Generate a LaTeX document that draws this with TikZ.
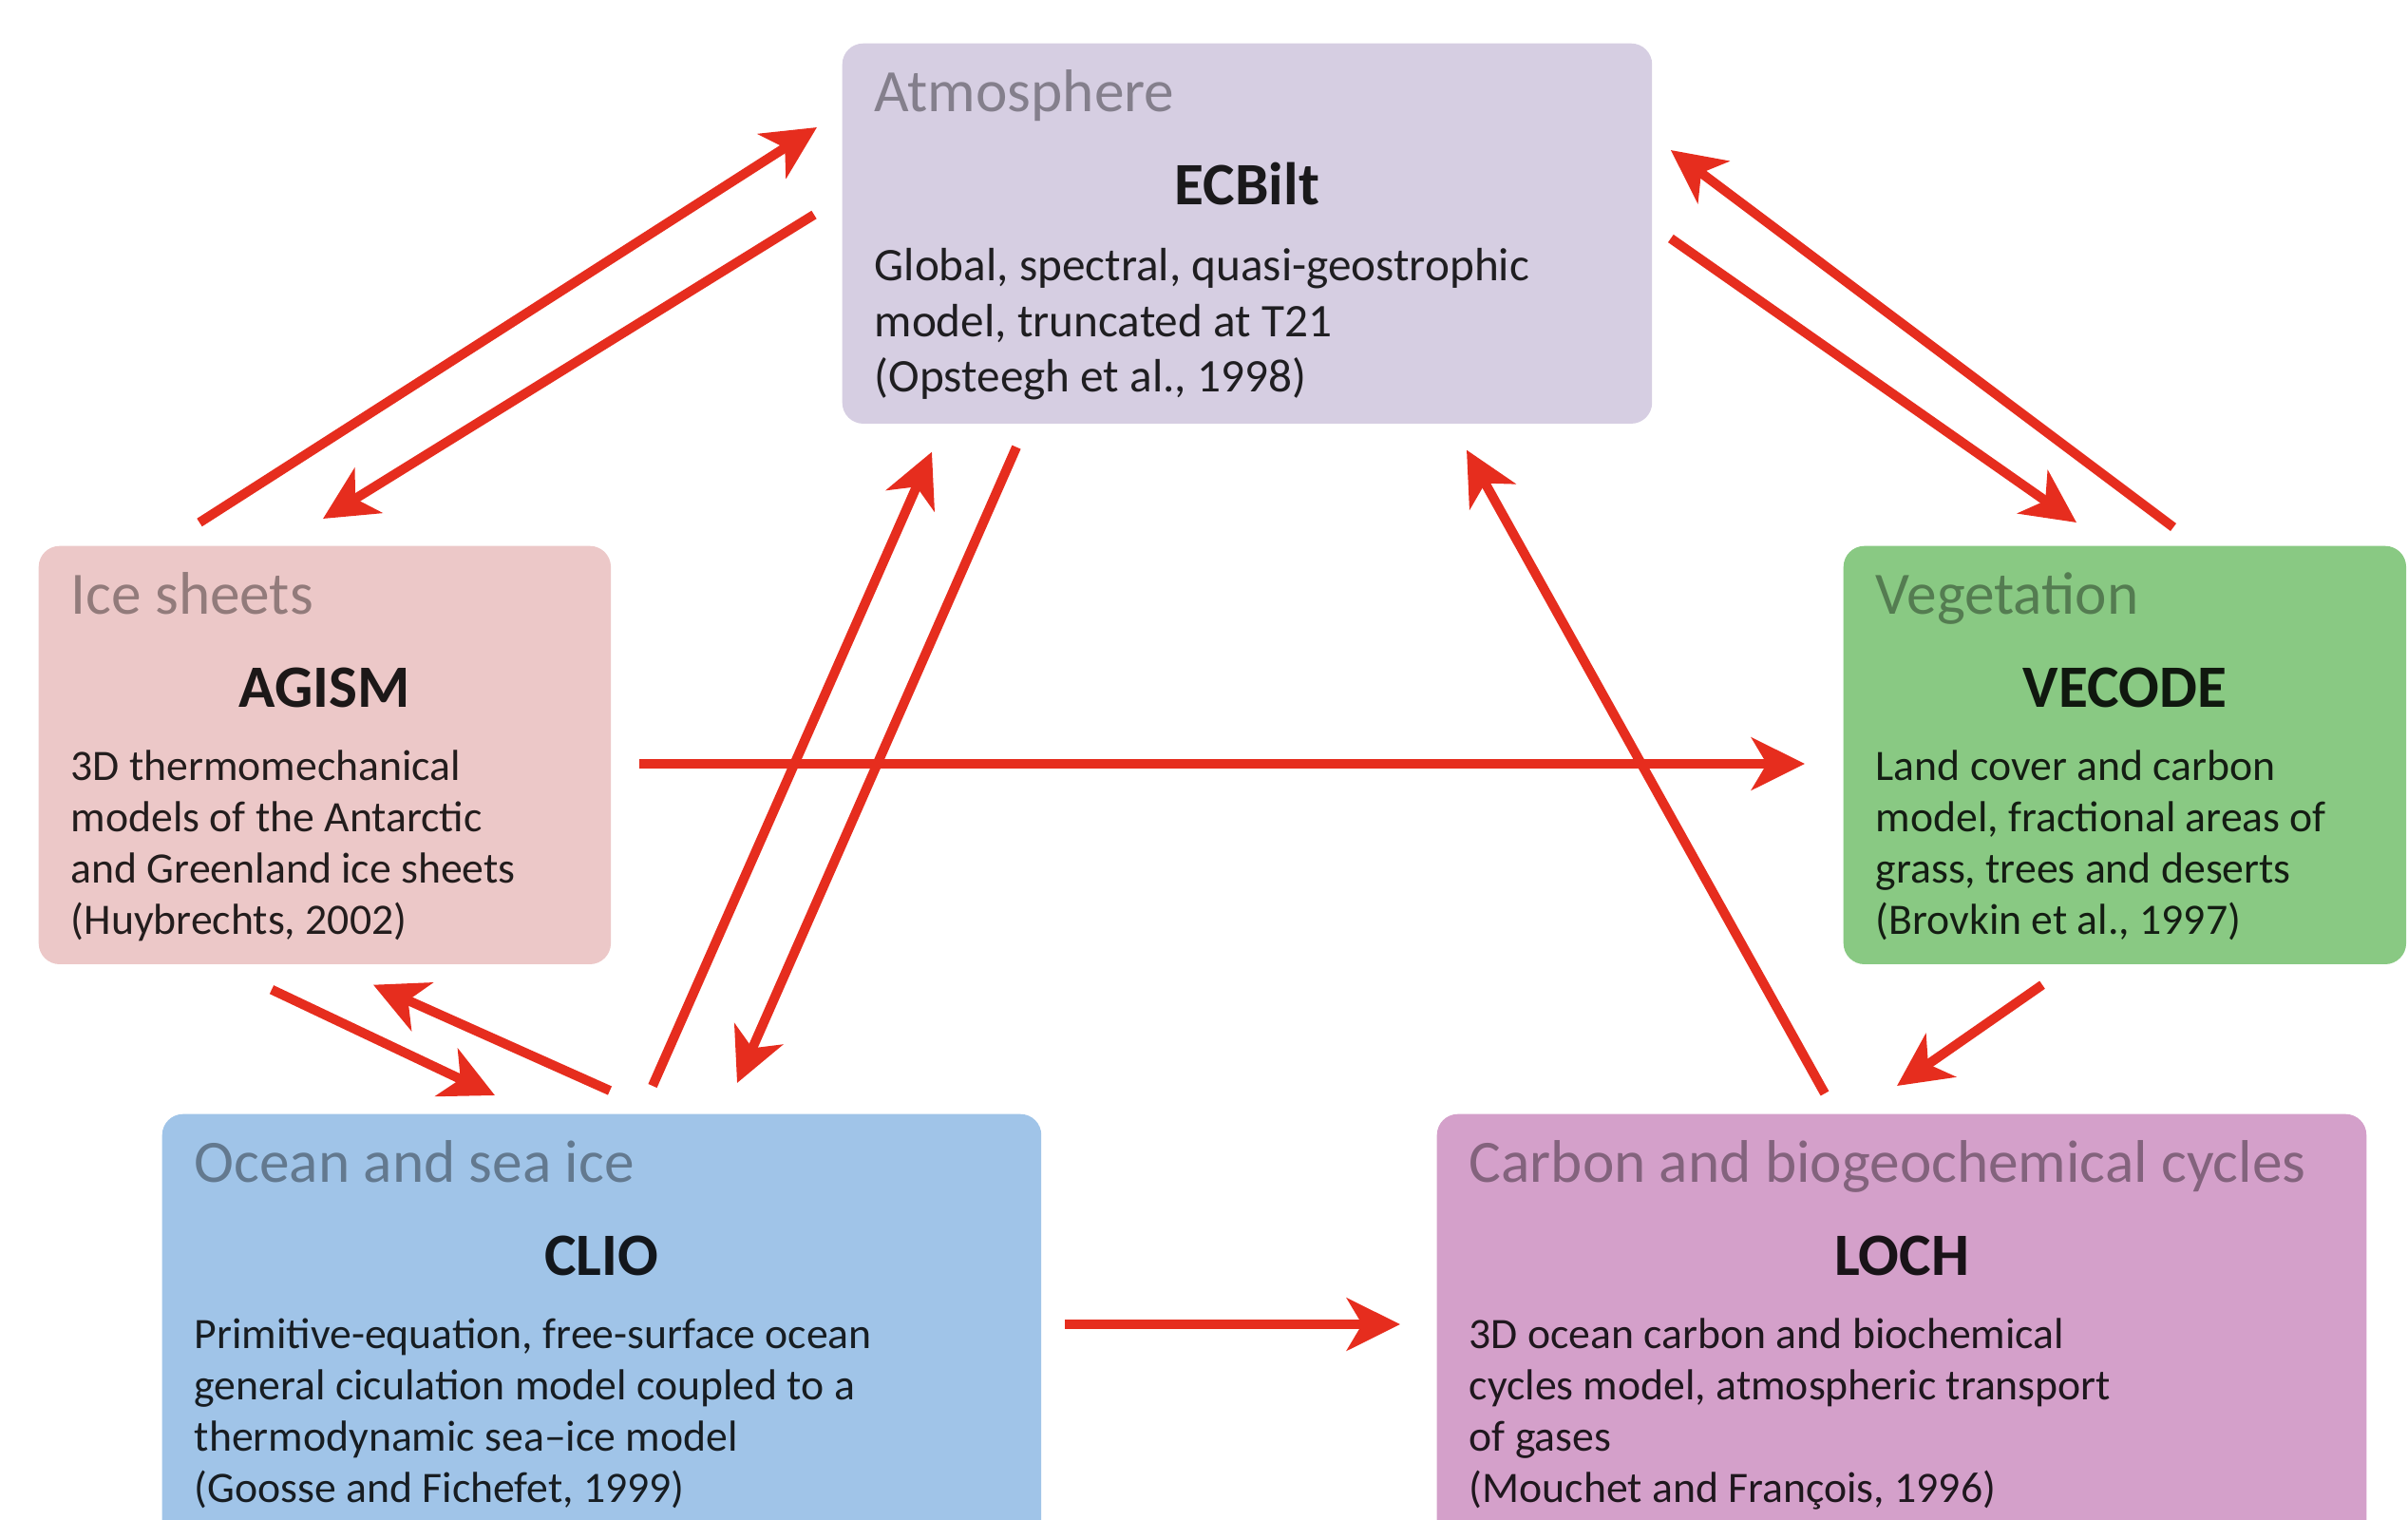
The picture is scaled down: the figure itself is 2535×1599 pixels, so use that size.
\documentclass[tikz,border=0pt]{standalone}
\usepackage{fontspec}
\setmainfont{Carlito}
\usepackage{tikz}
\usepackage{xcolor}
\usetikzlibrary{positioning, arrows.meta}

\definecolor{atmfill}{RGB}{214,206,226}
\definecolor{icefill}{RGB}{236,200,200}
\definecolor{vegfill}{RGB}{137,201,131}
\definecolor{oceanfill}{RGB}{160,196,232}
\definecolor{carbonfill}{RGB}{212,160,202}
\definecolor{arrowred}{RGB}{230,45,30}

\begin{document}
\begin{tikzpicture}[x=0.01cm, y=-0.01cm,
        box/.style={rounded corners=0.22cm, anchor=north west, inner sep=0pt},
        title/.style={anchor=base west, inner sep=0pt, text=black, text opacity=0.38, font=\fontsize{18}{20}\selectfont},
        head/.style={anchor=base, inner sep=0pt, text=black, text opacity=0.88, font=\fontsize{18}{20}\selectfont\bfseries},
        body/.style={anchor=north west, inner sep=0pt, align=left, text=black, text opacity=0.85, font=\fontsize{13}{15.4}\selectfont},
        bigbody/.style={body, font=\fontsize{14}{16.6}\selectfont},
        link/.style={arrowred, line width=0.1cm, -{Stealth[length=0.56cm, width=0.55cm, inset=0.16cm]}}]
        \useasboundingbox (0, 0) rectangle (2535, 1599);

        \node[box, fill=atmfill, minimum width=8.52cm, minimum height=4cm] (atm) at (886, 45) {};
        \node[box, fill=icefill, minimum width=6.02cm, minimum height=4.4cm] (ice) at (40, 574) {};
        \node[box, fill=vegfill, minimum width=5.92cm, minimum height=4.4cm] (veg) at (1940, 574) {};
        \node[box, fill=oceanfill, minimum width=9.25cm, minimum height=4.5cm] (ocean) at (170, 1172) {};
        \node[box, fill=carbonfill, minimum width=9.78cm, minimum height=4.5cm] (carbon) at (1512, 1172) {};

        % atmosphere
        \node[title] (atmT) at ([shift={(34, 72)}]atm.north west) {Atmosphere};
        \node[head] (atmH) at ([shift={(0, 170)}]atm.north) {ECBilt};
        \node[bigbody] (atmB) at ([shift={(34, 216)}]atm.north west) {Global, spectral, quasi-geostrophic\\model, truncated at T21\\(Opsteegh et al., 1998)};

        % ice sheets
        \node[title] (iceT) at ([shift={(34, 72)}]ice.north west) {Ice sheets};
        \node[head] (iceH) at ([shift={(0, 170)}]ice.north) {AGISM};
        \node[body] (iceB) at ([shift={(34, 215)}]ice.north west) {3D thermomechanical\\models of the Antarctic\\and Greenland ice sheets\\(Huybrechts, 2002)};

        % vegetation
        \node[title] (vegT) at ([shift={(34, 72)}]veg.north west) {Vegetation};
        \node[head] (vegH) at ([shift={(0, 170)}]veg.north) {VECODE};
        \node[body] (vegB) at ([shift={(34, 215)}]veg.north west) {Land cover and carbon\\model, fractional areas of\\grass, trees and deserts\\(Brovkin et al., 1997)};

        % ocean
        \node[title] (oceanT) at ([shift={(34, 72)}]ocean.north west) {Ocean and sea ice};
        \node[head] (oceanH) at ([shift={(0, 170)}]ocean.north) {CLIO};
        \node[body] (oceanB) at ([shift={(34, 215)}]ocean.north west) {Primitive-equation, free-surface ocean\\general ciculation model coupled to a\\thermodynamic sea–ice model\\(Goosse and Fichefet, 1999)};

        % carbon
        \node[title] (carbonT) at ([shift={(34, 72)}]carbon.north west) {Carbon and biogeochemical cycles};
        \node[head] (carbonH) at ([shift={(0, 170)}]carbon.north) {LOCH};
        \node[body] (carbonB) at ([shift={(34, 215)}]carbon.north west) {3D ocean carbon and biochemical\\cycles model, atmospheric transport\\of gases\\(Mouchet and François, 1996)};

        % couplings
        \draw[link] ([shift={(170, -24)}]ice.north west) to ([shift={(-26, 89)}]atm.north west);
        \draw[link] ([shift={(-29, 181)}]atm.north west) to ([shift={(300, -28)}]ice.north west);
        \draw[link] ([shift={(348, -19)}]veg.north west) to ([shift={(19, 113)}]atm.north east);
        \draw[link] ([shift={(19, 206)}]atm.north east) to ([shift={(246, -24)}]veg.north west);
        \draw[link] ([shift={(29, 230)}]ice.north east) to ([shift={(-40, 230)}]veg.north west);
        \draw[link] ([shift={(246, 26)}]ice.south west) to ([shift={(351, -19)}]ocean.north west);
        \draw[link] ([shift={(472, -24)}]ocean.north west) to ([shift={(353, 21)}]ice.south west);
        \draw[link] ([shift={(517, -29)}]ocean.north west) to ([shift={(95, 29)}]atm.south west);
        \draw[link] ([shift={(184, 24)}]atm.south west) to ([shift={(606, -32)}]ocean.north west);
        \draw[link] ([shift={(409, -21)}]carbon.north west) to ([shift={(658, 27)}]atm.south west);
        \draw[link] ([shift={(210, 21)}]veg.south west) to ([shift={(485, -29)}]carbon.north west);
        \draw[link] ([shift={(24, 222)}]ocean.north east) to ([shift={(-38, 222)}]carbon.north west);
\end{tikzpicture}
\end{document}
